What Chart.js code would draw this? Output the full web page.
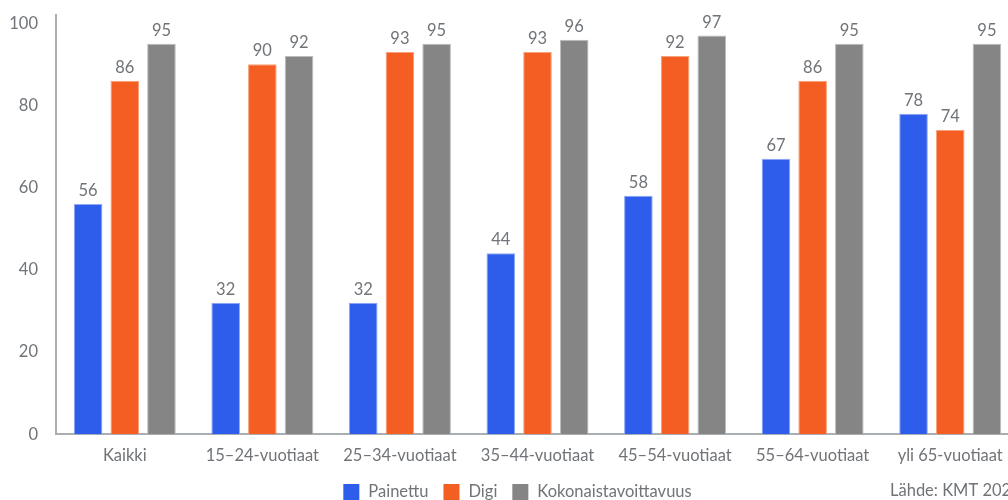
<!DOCTYPE html>
<html><head><meta charset="utf-8">
<script src="https://cdn.jsdelivr.net/npm/chart.js@4"></script>
<style>html,body{margin:0;padding:0;overflow:hidden;background:#fff;width:1008px;height:500px}#wrap{width:1019px;height:500px}</style>
</head><body><div id="wrap"><canvas id="c" width="1019" height="500"></canvas></div>
<script>
const categories = ["Kaikki","15–24-vuotiaat","25–34-vuotiaat","35–44-vuotiaat","45–54-vuotiaat","55–64-vuotiaat","yli 65-vuotiaat"];
const painettu = [56,32,32,44,58,67,78];
const digi = [86,90,93,93,92,86,74];
const kokonais = [95,92,95,96,97,95,95];
const yTicks = [0,20,40,60,80,100];
const sourceText = "Lähde: KMT 2021";

const FONT = "Lato, 'Open Sans', sans-serif";
const FS = 16.5;
const TXT = "#707478";

const valueLabels = {
  id:'valueLabels',
  afterDatasetsDraw(chart){
    const ctx = chart.ctx;
    ctx.save();
    ctx.font = FS + "px " + FONT;
    ctx.fillStyle = TXT;
    ctx.textAlign = "center";
    ctx.textBaseline = "bottom";
    chart.data.datasets.forEach((ds,i)=>{
      chart.getDatasetMeta(i).data.forEach((bar,j)=>{
        ctx.fillText(String(ds.data[j]), bar.x, bar.y - 5);
      });
    });
    ctx.restore();
  }
};
const legendAndSource = {
  id:'legendAndSource',
  afterDraw(chart){
    const ctx = chart.ctx;
    ctx.save();
    ctx.font = FS + "px " + FONT;
    ctx.textBaseline = "middle";
    const box = 16, gapText = 9, gapItem = 15, cy = 492, cx = 517.5;
    const items = chart.data.datasets.map(ds => ({label: ds.label, color: ds.backgroundColor, w: ctx.measureText(ds.label).width}));
    let total = 0;
    items.forEach((it,i) => { total += box + gapText + it.w + (i < items.length-1 ? gapItem : 0); });
    let x = cx - total/2;
    items.forEach(it => {
      ctx.fillStyle = it.color;
      ctx.fillRect(x, cy - box/2, box, box);
      x += box + gapText;
      ctx.fillStyle = TXT;
      ctx.textAlign = "left";
      ctx.fillText(it.label, x, cy);
      x += it.w + gapItem;
    });
    ctx.fillText(sourceText, 890, 491);
    ctx.restore();
  }
};

new Chart(document.getElementById('c'), {
  type:'bar',
  data:{
    labels:categories,
    datasets:[
      {label:"Painettu", data:painettu, backgroundColor:"#2F5DEB", borderColor:"#8FA6F5", borderWidth:1},
      {label:"Digi", data:digi, backgroundColor:"#F55E22", borderColor:"#F9A07C", borderWidth:1},
      {label:"Kokonaistavoittavuus", data:kokonais, backgroundColor:"#858585", borderColor:"#BDBDBD", borderWidth:1}
    ]
  },
  options:{
    responsive:false,
    animation:false,
    devicePixelRatio:1,
    layout:{padding:{top:15,left:0,right:0,bottom:22}},
    datasets:{bar:{categoryPercentage:0.8,barPercentage:0.78}},
    plugins:{
      legend:{display:false},
      tooltip:{enabled:false}
    },
    scales:{
      x:{
        grid:{display:false,drawTicks:false},
        border:{display:true,color:"#A9AEB3",width:2},
        ticks:{font:{family:FONT,size:FS},color:TXT,padding:12}
      },
      y:{
        min:0,max:102,
        afterBuildTicks(s){ s.ticks = yTicks.map(v=>({value:v})); },
        afterFit(s){ s.width = 56; s.paddingTop = 0; s.paddingBottom = 0; },
        grid:{display:false,drawTicks:false},
        border:{display:true,color:"#A9AEB3",width:2},
        ticks:{font:{family:FONT,size:FS},color:TXT,padding:18}
      }
    }
  },
  plugins:[valueLabels,legendAndSource]
});
</script></body></html>
